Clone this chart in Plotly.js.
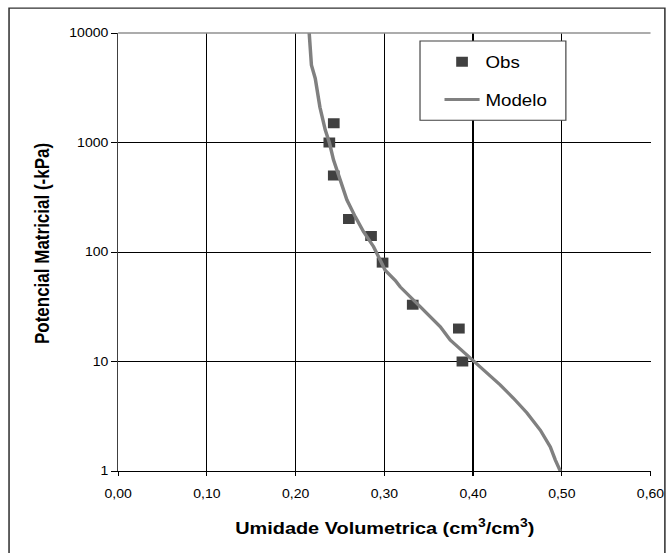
<!DOCTYPE html>
<html>
<head>
<meta charset="utf-8">
<script src="https://cdn.plot.ly/plotly-3.0.1.min.js"></script>
<style>
  html, body { margin: 0; padding: 0; background: #ffffff; overflow: hidden; }
  #chart { width: 570px; height: 553px; transform: scaleX(1.17); transform-origin: 0 0; }
</style>
</head>
<body>
<div id="chart"></div>
<script>
// Observed points
const obsTheta = [0.243, 0.238, 0.243, 0.260, 0.285, 0.298, 0.332, 0.384, 0.388];
const obsPsi   = [1500, 1000, 500, 200, 140, 80, 33, 20, 10];

// Fitted model curve
const modelTheta = [0.2153, 0.2178, 0.2221, 0.2274, 0.2334, 0.2382, 0.2427, 0.2503, 0.2578, 0.2672,
                    0.2766, 0.2878, 0.2935, 0.3010, 0.3123, 0.3179, 0.3405, 0.3630, 0.3743, 0.3856,
                    0.4006, 0.4156, 0.4307, 0.4457, 0.4607, 0.4758, 0.4870, 0.4927, 0.4983];
const modelPsi   = [10000, 5100, 3850, 2100, 1300, 985, 692, 455, 299, 210,
                    153, 112, 90, 68, 55, 48, 31.6, 20.8, 15.7, 13.0,
                    10, 7.8, 6.1, 4.6, 3.4, 2.36, 1.66, 1.26, 1.0];

// Tick labels
const xTickVals = [0, 0.1, 0.2, 0.3, 0.4, 0.5, 0.6];
const xTickText = ['0,00', '0,10', '0,20', '0,30', '0,40', '0,50', '0,60'];
const yTickVals = [1, 10, 100, 1000, 10000];
const yTickText = ['1', '10', '100', '1000', '10000'];

const FONT = 'Liberation Sans, Arial, sans-serif';

const traces = [
  {
    x: obsTheta, y: obsPsi, name: 'Obs', type: 'scatter', mode: 'markers',
    legendgroup: 'a',
    marker: { symbol: 'square', size: 10, color: '#404040' }
  },
  {
    x: modelTheta, y: modelPsi, name: 'Modelo', type: 'scatter', mode: 'lines',
    legendgroup: 'b',
    line: { color: '#808080', width: 3 }
  }
];

const layout = {
  width: 570, height: 553,
  margin: { l: 101, r: 14, t: 33, b: 82 },
  paper_bgcolor: '#ffffff', plot_bgcolor: '#ffffff',
  font: { family: FONT, size: 12, color: '#000000' },
  showlegend: true,
  legend: {
    x: 0.602, y: 0.973, xanchor: 'left', yanchor: 'top',
    bgcolor: 'rgba(0,0,0,0)', borderwidth: 0,
    font: { family: FONT, size: 16, color: '#000000' },
    tracegroupgap: 14
  },
  xaxis: {
    range: [0, 0.6], tickvals: xTickVals, ticktext: xTickText,
    showgrid: true, gridcolor: '#000000', gridwidth: 1,
    zeroline: false, showline: true, linecolor: '#000000', linewidth: 1,
    ticks: 'outside', ticklen: 4, tickcolor: '#000000',
    ticklabelstandoff: 8,
    tickfont: { family: FONT, size: 12, color: '#000000' },
    fixedrange: true
  },
  yaxis: {
    type: 'log', range: [0, 4], tickvals: yTickVals, ticktext: yTickText,
    showgrid: true, gridcolor: '#000000', gridwidth: 1,
    zeroline: false, showline: true, linecolor: '#404040', linewidth: 1,
    ticks: 'outside', ticklen: 5, tickcolor: '#000000',
    tickfont: { family: FONT, size: 12, color: '#000000' },
    fixedrange: true
  },
  shapes: [
    // outer chart border
    { type: 'rect', xref: 'paper', yref: 'paper', x0: -0.205, x1: 1.027, y0: -0.25, y1: 1.057,
      line: { color: '#303030', width: 1.3 }, fillcolor: 'rgba(0,0,0,0)', layer: 'below' },
    // top edge of plot area (grey)
    { type: 'line', xref: 'paper', yref: 'paper', x0: 0, x1: 1, y0: 1, y1: 1,
      line: { color: '#909090', width: 1.5 }, layer: 'above' },
    // legend box
    { type: 'rect', xref: 'paper', yref: 'paper', x0: 0.567, x1: 0.841, y0: 0.801, y1: 0.982,
      line: { color: '#404040', width: 1 }, fillcolor: '#ffffff', layer: 'above' }
  ],
  annotations: [
    { text: '<b>Umidade Volumetrica (cm<sup>3</sup>/cm<sup>3</sup>)</b>', xref: 'paper', yref: 'paper',
      x: 0.5, y: -0.128, xanchor: 'center', yanchor: 'middle', showarrow: false,
      font: { family: FONT, size: 17, color: '#000000' } },
    { text: '<b>Potencial Matricial (-kPa)</b>', xref: 'paper', yref: 'paper',
      x: -0.142, y: 0.519, xanchor: 'center', yanchor: 'middle', showarrow: false, textangle: -90,
      font: { family: FONT, size: 17, color: '#000000' } }
  ]
};

Plotly.newPlot('chart', traces, layout, { displayModeBar: false, staticPlot: true });
</script>
</body>
</html>
